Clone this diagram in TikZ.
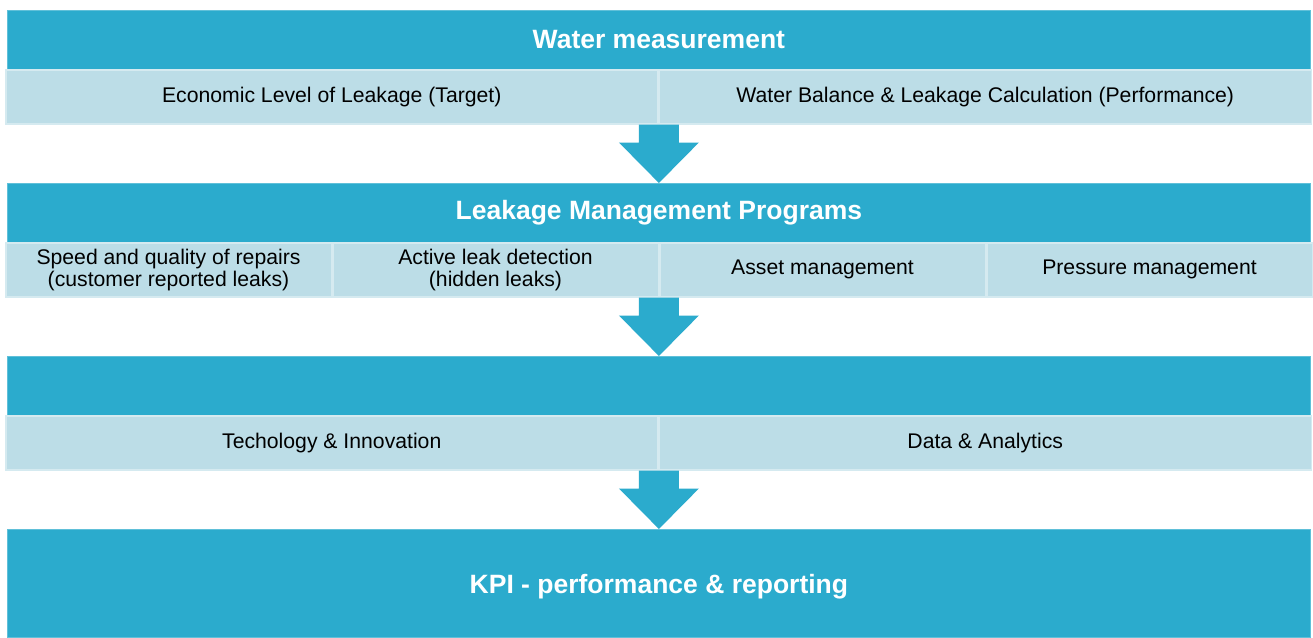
\documentclass[tikz,border=0pt]{standalone}
\usepackage{fontspec}
\setmainfont{Liberation Sans}
\usetikzlibrary{positioning,calc}
\definecolor{leakblue}{HTML}{2BABCD}
\definecolor{leaklight}{HTML}{BCDDE7}
\definecolor{leakedge}{HTML}{D5EAF0}

% block arrow from the bottom of a row down to the next header
\newcommand{\flowarrow}[2]{%
	\path (#1.south -| #2.north) coordinate (top);
	\fill[leakblue] ($(top)+(-20,0)$) -- ($(top)+(20,0)$) -- ($(top)+(20,-18)$)
		-- ($(top)+(40,-18)$) -- (#2.north) -- ($(top)+(-40,-18)$)
		-- ($(top)+(-20,-18)$) -- cycle;}

\begin{document}
\begin{tikzpicture} [x=1pt, y=1pt, node distance=0pt]
	\tikzset{head/.style={fill=leakblue, draw=leakblue!75!white, line width=0.8pt, text=white,
		font=\fontsize{26.5}{28}\selectfont\bfseries, minimum width=1303pt, minimum height=59pt,
		inner sep=0pt, anchor=north west}}
	\tikzset{cell/.style={fill=leaklight, draw=leakedge, line width=1.5pt, align=center,
		font=\fontsize{21.2}{22}\selectfont, minimum height=54pt, inner sep=0pt, anchor=north west}}
	\tikzset{half/.style={cell, minimum width=652pt}}
	\tikzset{quarter/.style={cell, minimum width=325.5pt}}

	\useasboundingbox[fill=white] (0,0) rectangle (1313,-637);

	\node[head]		(wm)	at (7,-10)	{Water measurement};
	\node[half]		(ell)	at (5,-69)	{Economic Level of Leakage (Target)};
	\node[half]		(wb)	[right=of ell]	{Water Balance \& Leakage Calculation (Performance)};

	\node[head]		(lmp)	at (7,-183)	{Leakage Management Programs};
	\node[quarter]	(rep)	at (5,-242)	{Speed and quality of repairs\\(customer reported leaks)};
	\node[quarter]	(ald)	[right=of rep]	{Active leak detection\\(hidden leaks)};
	\node[quarter]	(asm)	[right=of ald]	{Asset management};
	\node[quarter]	(prm)	[right=of asm]	{Pressure management};

	\node[head]		(blank)	at (7,-356)	{};
	\node[half]		(tec)	at (5,-415)	{Techology \& Innovation};
	\node[half]		(dat)	[right=of tec]	{Data \& Analytics};

	\node[head, minimum height=108pt, text depth=-6pt]	(kpi)	at (7,-529)	{KPI - performance \& reporting};

	\flowarrow{ell}{lmp}
	\flowarrow{rep}{blank}
	\flowarrow{tec}{kpi}
\end{tikzpicture}
\end{document}
